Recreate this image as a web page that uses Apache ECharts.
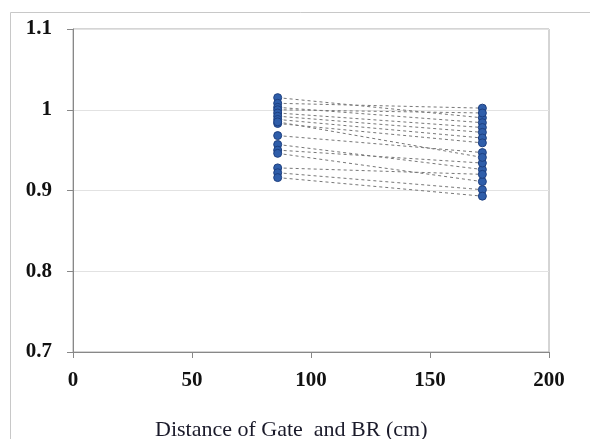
<!DOCTYPE html>
<html>
<head>
<meta charset="utf-8">
<script src="https://cdn.jsdelivr.net/npm/echarts@6/dist/echarts.min.js"></script>
<style>html,body{margin:0;padding:0;background:#fff;}#c{width:590px;height:439px;}</style>
</head>
<body>
<div id="c"></div>
<script>
var xPositions = [86, 172];
var leftValues  = [1.015, 1.008, 1.003, 1.000, 0.996, 0.992, 0.988, 0.983, 0.968, 0.957, 0.950, 0.946, 0.928, 0.922, 0.916, 0.985];
var rightValues = [0.990, 1.002, 0.984, 0.996, 0.978, 0.972, 0.965, 0.959, 0.947, 0.926, 0.934, 0.911, 0.920, 0.901, 0.893, 0.941];
var xTicks = [0, 50, 100, 150, 200];
var yTicks = [0.7, 0.8, 0.9, 1.0, 1.1];
var xTitle = 'Distance of Gate  and BR (cm)';

var series = leftValues.map(function (lv, i) {
  return {
    type: 'line',
    data: [[xPositions[0], lv], [xPositions[1], rightValues[i]]],
    symbol: 'circle',
    symbolSize: 8,
    itemStyle: { color: '#2f5eaa', borderColor: '#1d3f80', borderWidth: 1 },
    lineStyle: { color: '#777', width: 1, type: [3, 3] },
    z: 3
  };
});

var chart = echarts.init(document.getElementById('c'), null, { renderer: 'canvas' });
chart.setOption({
  animation: false,
  backgroundColor: '#fff',
  grid: { left: 73, right: 41, top: 29, bottom: 87, show: true, borderColor: '#aaa', borderWidth: 1 },
  xAxis: {
    type: 'value', min: xTicks[0], max: xTicks[xTicks.length - 1], interval: 50,
    axisLine: { show: true, onZero: false, lineStyle: { color: '#888', width: 1 } },
    axisTick: { show: true, inside: false, length: 6, lineStyle: { color: '#888' } },
    splitLine: { show: false },
    axisLabel: { margin: 18, color: '#111', fontFamily: 'Liberation Serif', fontWeight: 'bold', fontSize: 21 }
  },
  yAxis: {
    type: 'value', min: yTicks[0], max: yTicks[yTicks.length - 1], interval: 0.1,
    axisLine: { show: true, lineStyle: { color: '#888', width: 1 } },
    axisTick: { show: true, inside: false, length: 6, lineStyle: { color: '#888' } },
    splitLine: { show: true, lineStyle: { color: '#e2e2e2', width: 1 } },
    axisLabel: {
      margin: 21, color: '#111', fontFamily: 'Liberation Serif', fontWeight: 'bold', fontSize: 21,
      formatter: function (v) { return String(Math.round(v * 10) / 10); }
    }
  },
  graphic: [
    { type: 'rect', left: 8, top: 10, shape: { width: 620, height: 460 }, style: { fill: 'none', stroke: '#c8c8c8', lineWidth: 1 }, silent: true, z: -1 },
    { type: 'text', left: 155, top: 419, style: { text: xTitle, fill: '#1a1a2a', font: '22px "Liberation Serif"' } }
  ],
  series: series
});
</script>
</body>
</html>
